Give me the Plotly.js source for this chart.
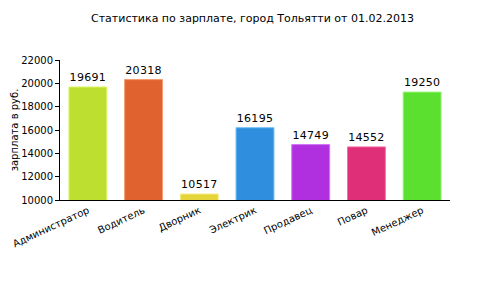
<!DOCTYPE html>
<html>
<head>
<meta charset="utf-8">
<script src="https://cdn.plot.ly/plotly-3.0.1.min.js"></script>
<style>
html,body{margin:0;padding:0;background:#fff;}
.bartext {letter-spacing: 0.3px;}
</style>
</head>
<body>
<div id="chart" style="width:500px;height:300px;"></div>
<script>
const categories = ["Администратор", "Водитель", "Дворник", "Электрик", "Продавец", "Повар", "Менеджер"];
const salaries = [19691, 20318, 10517, 16195, 14749, 14552, 19250];
const barColors = ["#bde030", "#e0632f", "#e5d43a", "#2f8fde", "#b02fdf", "#de2f78", "#5ce02f"];
const borderColors = ["#e0f570", "#f59a70", "#f5ec80", "#70bdf5", "#d570f5", "#f570a8", "#98f570"];
const yTicks = [10000, 12000, 14000, 16000, 18000, 20000, 22000];

const trace = {
  type: "bar",
  x: categories,
  y: salaries,
  base: 0,
  text: salaries.map(String),
  textposition: "outside",
  cliponaxis: false,
  textfont: {family: "DejaVu Sans", size: 11, color: "#000"},
  marker: {color: barColors, line: {color: borderColors, width: 1}},
  hoverinfo: "none"
};

const layout = {
  width: 500, height: 300,
  margin: {l: 60, r: 50, t: 60, b: 100},
  paper_bgcolor: "#fff", plot_bgcolor: "#fff",
  showlegend: false,
  bargap: 0.32,
  title: {text: "Статистика по зарплате, город Тольятти от 01.02.2013",
          font: {family: "DejaVu Sans", size: 11, color: "#000"},
          x: 0.505, xanchor: "center", y: 0.94, yanchor: "middle"},
  xaxis: {
    type: "category",
    range: [-0.5, 6.5],
    showline: true, linecolor: "#000", linewidth: 1,
    ticks: "", tickangle: -25,
    tickfont: {family: "DejaVu Sans", size: 10, color: "#000"},
    showgrid: false, zeroline: false
  },
  yaxis: {
    range: [10000, 22000],
    tickvals: yTicks,
    ticktext: yTicks.map(String),
    showline: true, linecolor: "#000", linewidth: 1,
    ticks: "outside", ticklen: 4, tickcolor: "#000",
    tickfont: {family: "DejaVu Sans", size: 10, color: "#000"},
    showgrid: false, zeroline: false,
    title: {text: "зарплата в руб.", font: {family: "DejaVu Sans", size: 10, color: "#000"}, standoff: 0}
  }
};

Plotly.newPlot("chart", [trace], layout, {staticPlot: true, displayModeBar: false});
</script>
</body>
</html>
